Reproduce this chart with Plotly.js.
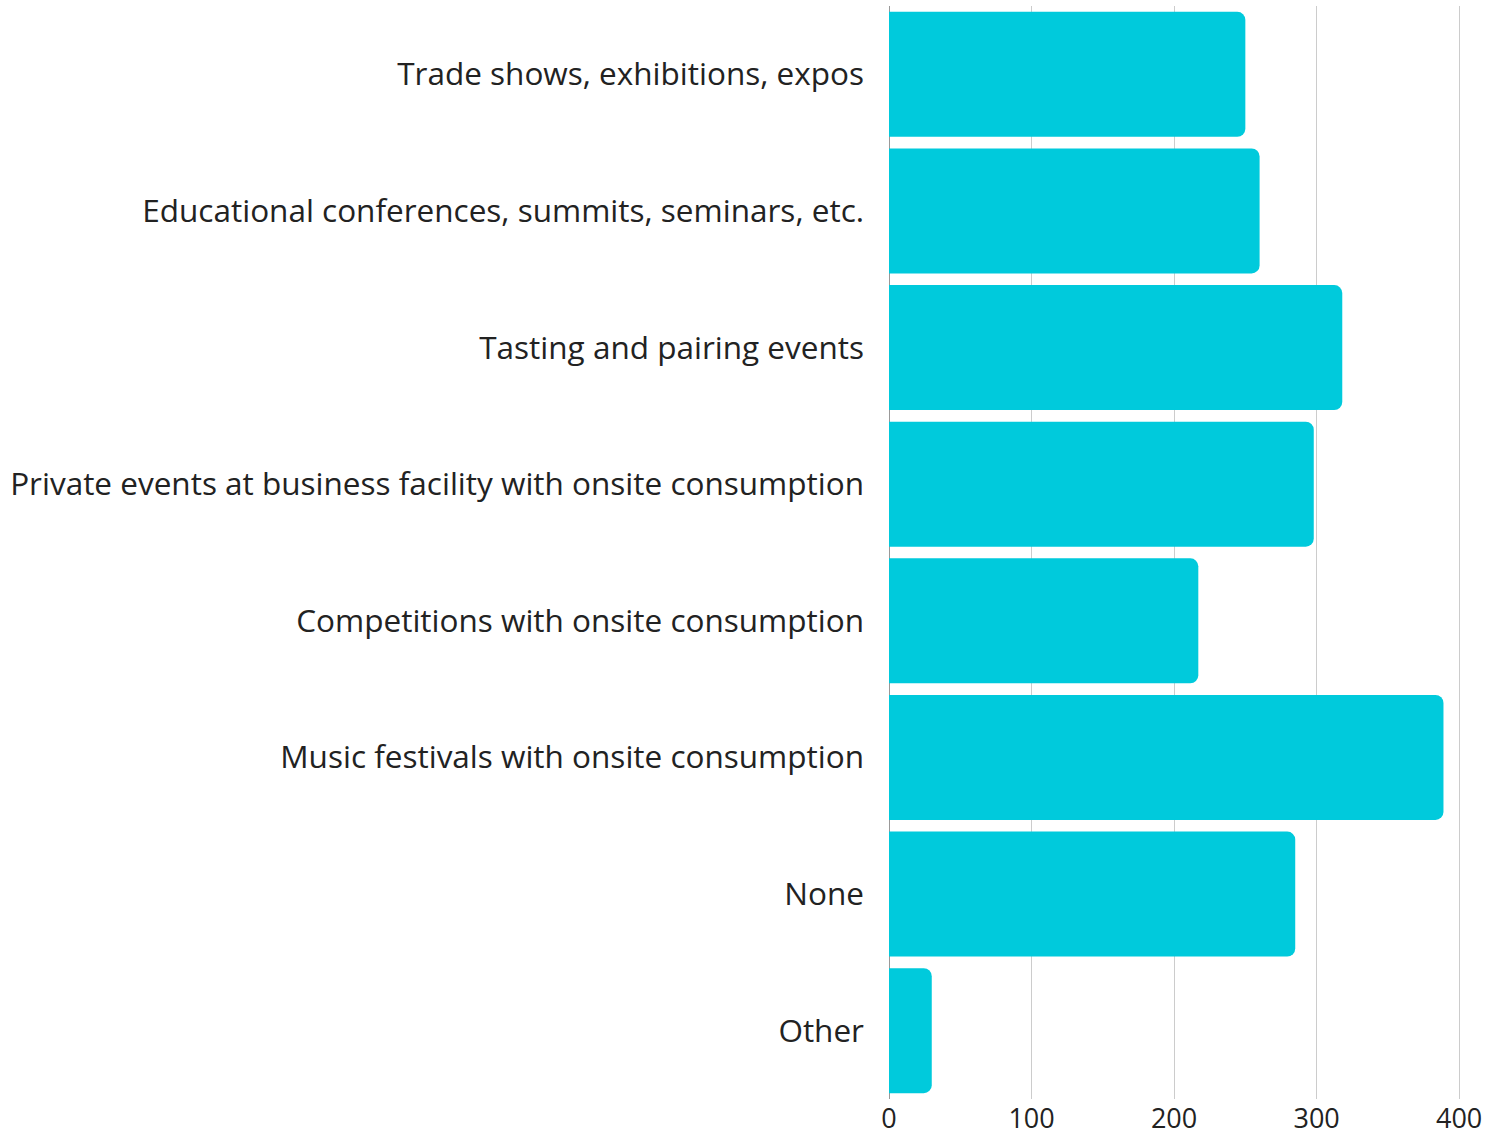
<!DOCTYPE html>
<html>
<head>
<meta charset="utf-8">
<script src="https://cdn.plot.ly/plotly-3.0.1.min.js"></script>
<style>html,body{margin:0;padding:0;background:#fff;}#chart{width:1507px;height:1136px;}</style>
</head>
<body>
<div id="chart"></div>
<script>
const categories = [
  "Trade shows, exhibitions, expos",
  "Educational conferences, summits, seminars, etc.",
  "Tasting and pairing events",
  "Private events at business facility with onsite consumption",
  "Competitions with onsite consumption",
  "Music festivals with onsite consumption",
  "None",
  "Other"
];
const values = [250, 260, 318, 298, 217, 389, 285, 30];
const tickValues = [0, 100, 200, 300, 400];

const FONT = "'Open Sans', Lato, sans-serif";

Plotly.newPlot("chart", [{
  type: "bar",
  orientation: "h",
  x: values,
  y: categories,
  marker: {color: "#00CADC", line: {width: 0}},
  hoverinfo: "x+y"
}], {
  width: 1507,
  height: 1136,
  margin: {l: 889, r: 45, t: 6, b: 37, pad: 0},
  paper_bgcolor: "#ffffff",
  plot_bgcolor: "#ffffff",
  bargap: 0.085,
  barcornerradius: 8,
  showlegend: false,
  xaxis: {
    range: [0, 402],
    tickvals: tickValues,
    ticktext: tickValues.map(String),
    showgrid: true,
    gridcolor: "#cccccc",
    gridwidth: 1,
    zeroline: true,
    zerolinecolor: "#999999",
    zerolinewidth: 1,
    showline: false,
    ticks: "",
    tickfont: {family: FONT, size: 27, color: "#222222"},
    ticklabelstandoff: 1
  },
  yaxis: {
    autorange: "reversed",
    showgrid: false,
    showline: false,
    ticks: "",
    tickfont: {family: FONT, size: 31.5, color: "#222222"},
    ticklabelstandoff: 24
  }
}, {displayModeBar: false, staticPlot: true});
</script>
</body>
</html>
